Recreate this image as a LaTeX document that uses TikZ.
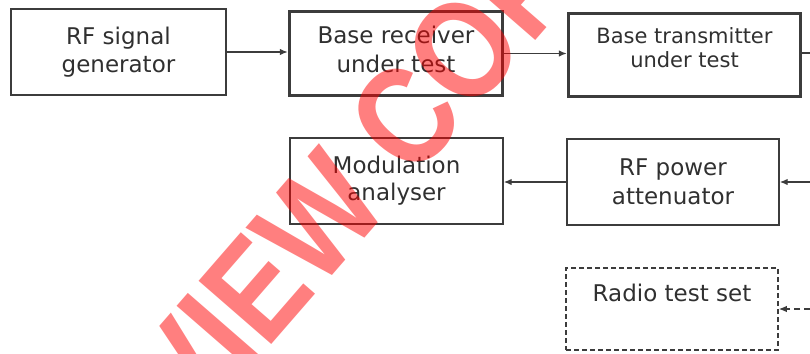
\documentclass[tikz,border=0pt]{standalone}
\usepackage{fontspec}
\usepackage{graphicx}
\setmainfont{DejaVu Sans}
\newfontfamily\wmfont{Liberation Sans}
\usetikzlibrary{arrows.meta}
\definecolor{ink}{HTML}{3C3C3C}
\definecolor{txt}{HTML}{303030}
\begin{document}
\begin{tikzpicture}[x=1pt,y=-1pt,
  box/.style={draw=ink, line width=1.4pt, inner sep=0pt, align=center, text=txt,
    font=\fontsize{23}{28.5}\selectfont},
  thickbox/.style={box, line width=3.4pt},
  dashbox/.style={draw=ink, line width=1.5pt, dash pattern=on 5pt off 3pt, inner sep=0pt},
  arr/.style={draw=ink, line width=1.4pt, -{Latex[length=8pt,width=6.5pt]}},
  dasharr/.style={arr, dash pattern=on 6pt off 4pt},
  plain/.style={draw=ink, line width=1.4pt},
  wm/.style={text=red, opacity=0.5, font=\wmfont\bfseries\fontsize{140}{140}\selectfont, inner sep=0pt}
]
\useasboundingbox (0,0) rectangle (810,353);
\clip (0,0) rectangle (810,353);

\node[box, minimum width=215pt, minimum height=86pt] (gen) at (118.5,52) {RF signal\\generator};
\node[thickbox, minimum width=213pt, minimum height=84pt] (rec) at (396,53.5) {Base receiver\\under test\rule[-8pt]{0pt}{0pt}};
\node[thickbox, minimum width=232pt, minimum height=83pt, font=\fontsize{21}{24.5}\selectfont] (tx) at (684.5,55) {Base transmitter\\under test\rule[-15pt]{0pt}{0pt}};
\node[box, minimum width=213pt, minimum height=86pt, font=\fontsize{23}{27}\selectfont] (mod) at (396.5,181) {Modulation\\analyser};
\node[box, minimum width=212pt, minimum height=86pt, font=\fontsize{23}{29}\selectfont] (att) at (673,182) {RF power\\attenuator};
\node[dashbox, minimum width=212pt, minimum height=82pt] (rts) at (672,309) {};
\node[anchor=base, inner sep=0pt, text=txt, font=\fontsize{23}{28}\selectfont] (rtstext) at (672,301) {Radio test set};

\coordinate (txout) at (810,53);
\coordinate (attin) at (810,182);
\coordinate (rtsin) at (810,309);

\draw[arr] (gen.east) -- (gen.east -| rec.west);
\draw[arr] (rec.east) -- (rec.east -| tx.west);
\draw[plain] (txout -| tx.east) -- (txout);
\draw[arr] (attin) -- (att.east);
\draw[arr] (att.west) -- (att.west -| mod.east);
\draw[dasharr] (rtsin) -- (rts.east);

\node[wm, rotate=49] (watermark) at (297,242) {\scalebox{0.85}[1]{PREVIEW COPY}};
\end{tikzpicture}
\end{document}
